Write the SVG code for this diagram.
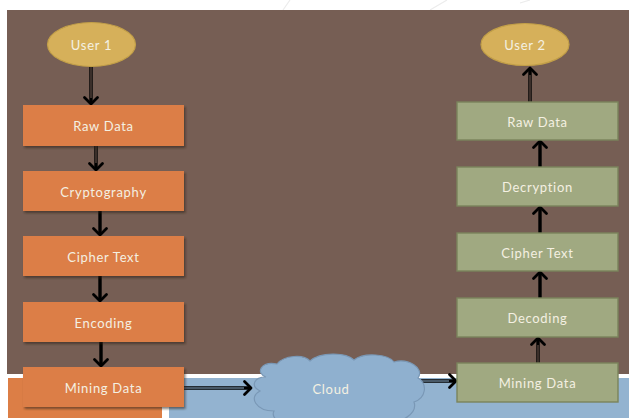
<svg xmlns="http://www.w3.org/2000/svg" width="629" height="418" viewBox="0 0 629 418">
  <defs>
    <filter id="shadow" x="-10%" y="-20%" width="125%" height="150%">
      <feDropShadow dx="1.5" dy="2" stdDeviation="1.2" flood-color="#2a1e18" flood-opacity="0.55"/>
    </filter>
    <marker id="head" markerUnits="userSpaceOnUse" viewBox="-9 -8 11 16" refX="0" refY="0" markerWidth="11" markerHeight="16" orient="auto" overflow="visible">
      <path d="M-6.5,-6.5 L0,0 L-6.5,6.5" fill="none" stroke="#000" stroke-width="2.8" stroke-linecap="round" stroke-linejoin="round"/>
    </marker>
  </defs>
  <style>
    text { font-family: "Lato", "Liberation Sans", sans-serif; font-size: 13px; fill: #f4f0e2; text-anchor: middle; dominant-baseline: central; letter-spacing: 0.7px; }
    .enc { fill: #dc7e46; filter: url(#shadow); }
    .dec { fill: #a0a981; stroke: #7a845c; stroke-width: 1.4; }
    .user { fill: #d6b05a; stroke: #c29f48; stroke-width: 1.2; }
    .shaft { fill: none; stroke: #000; stroke-width: 3.4; }
    .gap { fill: none; stroke: #765e54; stroke-width: 1; }
    .gapb { fill: none; stroke: #93b3d0; stroke-width: 1; }
    .tip { fill: none; stroke: none; marker-end: url(#head); }
  </style>

  <!-- backdrop panels -->
  <rect x="0" y="0" width="629" height="418" fill="#ffffff"/>
  <path d="M283,10 L290,0 M430,10 L447,0 M520,3 L530,0" stroke="#ececec" stroke-width="1.2" fill="none"/>
  <rect x="7" y="10" width="622" height="364" fill="#765e54"/>
  <rect x="8" y="378" width="154" height="40" fill="#dc7e46"/>
  <rect x="169" y="378" width="460" height="40" fill="#93b3d0"/>

  <!-- connectors -->
  <g id="connectors">
    <!-- User 1 -> Raw Data -->
    <line class="shaft" x1="91" y1="67" x2="91" y2="103"/>
    <line class="gap" x1="91" y1="67" x2="91" y2="98"/>
    <path class="tip" d="M91,95 L91,104"/>
    <!-- Raw Data -> Cryptography -->
    <line class="shaft" x1="96" y1="146" x2="96" y2="169"/>
    <line class="gap" x1="96" y1="146" x2="96" y2="163"/>
    <path class="tip" d="M96,160 L96,170"/>
    <!-- Cryptography -> Cipher Text -->
    <line class="shaft" x1="100" y1="211" x2="100" y2="234"/>
    <path class="tip" d="M100,226 L100,235"/>
    <!-- Cipher Text -> Encoding -->
    <line class="shaft" x1="100" y1="276" x2="100" y2="300"/>
    <path class="tip" d="M100,292 L100,301"/>
    <!-- Encoding -> Mining Data -->
    <line class="shaft" x1="101" y1="342" x2="101" y2="365"/>
    <path class="tip" d="M101,357 L101,366"/>
    <!-- Mining Data -> Cloud -->
    <line class="shaft" x1="184" y1="388" x2="250" y2="388"/>
    <line class="gapb" x1="184" y1="388" x2="244" y2="388"/>
    <path class="tip" d="M242,388 L251,388"/>
    <!-- Cloud -> Mining Data -->
    <line class="shaft" x1="421" y1="381" x2="455" y2="381"/>
    <line class="gapb" x1="421" y1="381" x2="449" y2="381"/>
    <path class="tip" d="M447,381 L456,381"/>
    <!-- Mining Data -> Decoding -->
    <line class="shaft" x1="538" y1="363" x2="538" y2="339"/>
    <line class="gap" x1="538" y1="363" x2="538" y2="345"/>
    <path class="tip" d="M538,347 L538,338"/>
    <!-- Decoding -> Cipher Text -->
    <line class="shaft" x1="540" y1="298" x2="540" y2="273"/>
    <path class="tip" d="M540,281 L540,272"/>
    <!-- Cipher Text -> Decryption -->
    <line class="shaft" x1="540" y1="233" x2="540" y2="208"/>
    <path class="tip" d="M540,216 L540,207"/>
    <!-- Decryption -> Raw Data -->
    <line class="shaft" x1="540" y1="167" x2="540" y2="142"/>
    <path class="tip" d="M540,150 L540,141"/>
    <!-- Raw Data -> User 2 -->
    <line class="shaft" x1="530" y1="102" x2="530" y2="69"/>
    <line class="gap" x1="530" y1="102" x2="530" y2="75"/>
    <path class="tip" d="M530,77 L530,68"/>
  </g>

  <!-- sender side -->
  <g id="user1">
    <ellipse class="user" cx="91.5" cy="44.5" rx="44" ry="22"/>
    <text x="91.5" y="45">User 1</text>
  </g>
  <g id="enc-raw">
    <rect class="enc" x="23" y="105" width="161" height="41"/>
    <text x="103.5" y="126">Raw Data</text>
  </g>
  <g id="enc-crypto">
    <rect class="enc" x="23" y="171" width="161" height="40"/>
    <text x="103.5" y="191.5">Cryptography</text>
  </g>
  <g id="enc-cipher">
    <rect class="enc" x="23" y="236" width="161" height="40"/>
    <text x="103.5" y="256.5">Cipher Text</text>
  </g>
  <g id="enc-encoding">
    <rect class="enc" x="23" y="302" width="161" height="40"/>
    <text x="103.5" y="322.5">Encoding</text>
  </g>
  <g id="enc-mining">
    <rect class="enc" x="23" y="367" width="161" height="40"/>
    <text x="103.5" y="387.5">Mining Data</text>
  </g>

  <!-- storage -->
  <g id="cloud">
    <path d="M266,377 C255,373 261,361 277,364 C284,355 304,354 310,361 C320,352 346,352 354,360 C364,352 388,354 394,362 C408,358 425,368 418,378 C428,384 426,398 414,402 C418,414 400,424 388,421 L300,426 C284,427 270,419 274,411 C256,411 248,397 260,391 C250,386 254,377 266,377 Z" fill="#8fb0cf" stroke="#7a98b6" stroke-width="1.2"/>
    <text x="331" y="389">Cloud</text>
  </g>

  <!-- receiver side -->
  <g id="user2">
    <ellipse class="user" cx="525" cy="44.5" rx="44" ry="21"/>
    <text x="525" y="45">User 2</text>
  </g>
  <g id="dec-raw">
    <rect class="dec" x="457" y="102" width="161" height="38"/>
    <text x="537.5" y="121.5">Raw Data</text>
  </g>
  <g id="dec-decryption">
    <rect class="dec" x="457" y="167" width="161" height="39"/>
    <text x="537.5" y="186.5">Decryption</text>
  </g>
  <g id="dec-cipher">
    <rect class="dec" x="457" y="233" width="161" height="38"/>
    <text x="537.5" y="252.5">Cipher Text</text>
  </g>
  <g id="dec-decoding">
    <rect class="dec" x="457" y="298" width="161" height="39"/>
    <text x="537.5" y="317.5">Decoding</text>
  </g>
  <g id="dec-mining">
    <rect class="dec" x="457" y="363" width="161" height="39"/>
    <text x="537.5" y="382.5">Mining Data</text>
  </g>
</svg>
